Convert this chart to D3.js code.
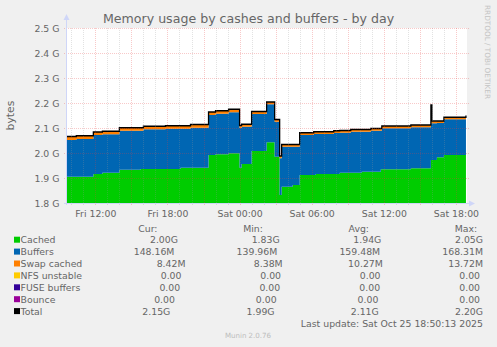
<!DOCTYPE html>
<html><head><meta charset="utf-8">
<script src="https://cdn.jsdelivr.net/npm/d3@7"></script>
<style>
html,body{margin:0;padding:0;background:#F0F0F0;}
svg{display:block;font-family:"DejaVu Sans",sans-serif;}
text{white-space:pre;}
</style></head><body>
<svg id="c" width="497" height="347"></svg>
<script>
// ---------- data ----------
const timeRange = ["2025-10-24 09:38:30", "2025-10-25 18:50:13"];
const times = [
  "2025-10-24 09:38","2025-10-24 10:25","2025-10-24 11:50","2025-10-24 12:35","2025-10-24 14:00",
  "2025-10-24 15:45","2025-10-24 16:00","2025-10-24 17:50","2025-10-24 19:05","2025-10-24 19:55",
  "2025-10-24 21:25","2025-10-24 22:00","2025-10-24 23:05","2025-10-25 00:00","2025-10-25 00:10",
  "2025-10-25 01:00","2025-10-25 02:15","2025-10-25 02:55","2025-10-25 03:20","2025-10-25 03:30",
  "2025-10-25 04:25","2025-10-25 05:00","2025-10-25 06:10","2025-10-25 06:20","2025-10-25 07:50",
  "2025-10-25 08:20","2025-10-25 09:15","2025-10-25 10:10","2025-10-25 10:55","2025-10-25 11:45",
  "2025-10-25 11:50","2025-10-25 14:15","2025-10-25 15:55","2025-10-25 16:00","2025-10-25 16:25",
  "2025-10-25 17:00","2025-10-25 18:50"
];
// Cached, in G
const cached = [1.905,1.905,1.916,1.921,1.933,1.936,1.936,1.936,1.941,1.941,
  1.992,1.995,1.999,1.941,1.956,2.008,2.043,1.985,1.832,1.865,
  1.872,1.912,1.912,1.916,1.916,1.921,1.921,1.925,1.925,1.935,
  1.935,1.939,1.972,1.972,1.983,1.992,1.995];
// Buffers, in M
const buffers = [150.5,154.6,159.7,157.7,159.7,156.7,162.8,164.9,159.7,163.8,
  163.8,165.9,167.9,162.8,152.6,151.6,155.6,143.0,150.5,163.8,
  156.7,163.8,167.9,163.8,167.9,163.8,167.9,163.8,167.9,157.7,
  167.9,167.9,150.5,150.5,140.0,146.4,148.16];
// Swap cached, in M
const swapCached = [13.5,13.0,12.0,12.5,12.0,12.0,12.0,12.0,12.0,13.0,
  12.0,12.0,12.0,10.0,10.0,10.0,9.0,9.0,9.0,9.5,
  9.5,9.0,9.0,9.0,9.0,9.0,9.0,9.0,9.0,9.0,
  9.0,9.0,8.5,8.5,8.5,8.4,8.42];
// Total, in G
const total = [2.066,2.069,2.084,2.087,2.101,2.101,2.107,2.109,2.109,2.114,
  2.164,2.169,2.175,2.110,2.115,2.166,2.204,2.134,1.988,2.034,
  2.034,2.081,2.085,2.085,2.089,2.090,2.094,2.094,2.098,2.098,
  2.108,2.112,2.192,2.128,2.128,2.143,2.150];

const seriesNames = ["Cached","Buffers","Swap cached","NFS unstable","FUSE buffers","Bounce","Total"];
const seriesColors = ["#00CC00","#0066B3","#FF8000","#FFCC00","#330099","#990099","#000000"];
const legendCur = ["  2.00G","148.16M","  8.42M","  0.00 ","  0.00 ","  0.00 ","  2.15G"];
const legendMin = ["  1.83G","139.96M","  8.38M","  0.00 ","  0.00 ","  0.00 ","  1.99G"];
const legendAvg = ["  1.94G","159.48M"," 10.27M","  0.00 ","  0.00 ","  0.00 ","  2.11G"];
const legendMax = ["  2.05G","168.31M"," 13.72M","  0.00 ","  0.00 ","  0.00 ","  2.20G"];
const legendHeader = ["Cur:","Min:","Avg:","Max:  "];
const yTicks = [1.8,1.9,2.0,2.1,2.2,2.3,2.4,2.5];
const xLabelTimes = ["2025-10-24 12:00","2025-10-24 18:00","2025-10-25 00:00","2025-10-25 06:00","2025-10-25 12:00","2025-10-25 18:00"];
const titleText = "Memory usage by cashes and buffers - by day";
const yLabel = "bytes";
const lastUpdate = "Last update: Sat Oct 25 18:50:13 2025";
const credit = "Munin 2.0.76";
const rrdTag = "RRDTOOL / TOBI OETIKER";

// ---------- layout ----------
const W = 497, H = 347;
const PL = 67, PR = 466, PT = 28, PB = 203;
const FONT = "#666666";
const svg = d3.select("#c");
const parseM = d3.timeParse("%Y-%m-%d %H:%M");
const parseS = d3.timeParse("%Y-%m-%d %H:%M:%S");

const x = d3.scaleTime().domain(timeRange.map(parseS)).range([PL, PR]);
const y = d3.scaleLinear().domain([1.8, 2.5]).range([PB, PT]);

svg.append("rect").attr("width", W).attr("height", H).attr("fill", "#F0F0F0");
svg.append("rect").attr("x", PL).attr("y", PT).attr("width", PR - PL + 1).attr("height", PB - PT).attr("fill", "#FFFFFF");

svg.append("defs").append("clipPath").attr("id", "clip")
  .append("rect").attr("x", PL).attr("y", PT - 5).attr("width", PR - PL + 1).attr("height", PB - PT + 5);

const rows = times.map((t, i) => {
  const c = cached[i], b = buffers[i] / 1024, s = swapCached[i] / 1024;
  return {t: parseM(t), c, cb: c + b, cbs: c + b + s, tot: total[i]};
});

const plot = svg.append("g").attr("clip-path", "url(#clip)");
const curve = d3.curveStepAfter;
plot.append("path").datum(rows).attr("fill", seriesColors[0])
  .attr("d", d3.area().curve(curve).x(d => x(d.t)).y0(PB).y1(d => y(d.c)));
plot.append("path").datum(rows).attr("fill", seriesColors[1])
  .attr("d", d3.area().curve(curve).x(d => x(d.t)).y0(d => y(d.c)).y1(d => y(d.cb)));
plot.append("path").datum(rows).attr("fill", seriesColors[2])
  .attr("d", d3.area().curve(curve).x(d => x(d.t)).y0(d => y(d.cb)).y1(d => y(d.cbs)));
plot.append("path").datum(rows).attr("fill", "none").attr("stroke", seriesColors[6]).attr("stroke-width", 1.3)
  .attr("d", d3.line().curve(curve).x(d => x(d.t)).y(d => y(d.tot)));

// ---------- grid (drawn on top, like rrdtool) ----------
const grid = svg.append("g").attr("shape-rendering", "crispEdges");
const hours = d3.timeHour.every(1).range(x.domain()[0], x.domain()[1]);
hours.forEach(h => {
  const major = h.getHours() % 3 === 0;
  const xp = Math.round(x(h)) + 0.5;
  grid.append("line").attr("x1", xp).attr("x2", xp).attr("y1", PT).attr("y2", major ? PB + 3 : PB + 2)
    .attr("stroke", major ? "rgba(230,60,60,0.28)" : "rgba(150,150,150,0.28)")
    .attr("stroke-dasharray", "1,1");
});
yTicks.forEach(v => {
  const yp = Math.round(y(v)) + 0.5;
  grid.append("line").attr("x1", PL - 3).attr("x2", PR + 3).attr("y1", yp).attr("y2", yp)
    .attr("stroke", "rgba(230,60,60,0.28)").attr("stroke-dasharray", "1,1");
});

// ---------- axes ----------
const AX = "#CFD6F8";
svg.append("line").attr("x1", PL - 0.5).attr("x2", PL - 0.5).attr("y1", PB + 2).attr("y2", PT - 8).attr("stroke", AX);
svg.append("path").attr("d", `M${PL - 3.5},${PT - 8} L${PL + 2.5},${PT - 8} L${PL - 0.5},${PT - 14} Z`).attr("fill", AX);
svg.append("line").attr("x1", PL - 3).attr("x2", PR + 3).attr("y1", PB + 0.5).attr("y2", PB + 0.5).attr("stroke", AX);
svg.append("path").attr("d", `M${PR + 3},${PB - 2.5} L${PR + 3},${PB + 3.5} L${PR + 9},${PB + 0.5} Z`).attr("fill", AX);

const yAxis = svg.append("g").attr("transform", `translate(${PL},0)`)
  .call(d3.axisLeft(y).tickValues(yTicks).tickFormat(d => d3.format(".1f")(d) + " G").tickSize(0).tickPadding(7.5));
yAxis.select(".domain").remove();
yAxis.selectAll("text").attr("font-family", "DejaVu Sans").attr("font-size", 9.33).attr("fill", FONT);

const xAxis = svg.append("g").attr("transform", `translate(0,${PB})`)
  .call(d3.axisBottom(x).tickValues(xLabelTimes.map(parseM)).tickFormat(d3.timeFormat("%a %H:%M")).tickSize(0).tickPadding(7));
xAxis.select(".domain").remove();
xAxis.selectAll("text").attr("font-family", "DejaVu Sans").attr("font-size", 9.33).attr("fill", FONT);

// ---------- texts ----------
svg.append("text").attr("x", 248.5).attr("y", 23.3).attr("text-anchor", "middle")
  .attr("font-size", 12.6).attr("fill", FONT).text(titleText);
svg.append("text").attr("transform", "translate(13.8,115.5) rotate(-90)").attr("text-anchor", "middle")
  .attr("font-size", 10.8).attr("fill", FONT).text(yLabel);
svg.append("text").attr("transform", "translate(484.6,5) rotate(90)").attr("text-anchor", "start")
  .attr("font-size", 7.3).attr("fill", "#C4C4C4").text(rrdTag);

// ---------- legend (rrdtool justified rows) ----------
const LL = 14, LR = 483, LFS = 9.33;
const legend = svg.append("g").attr("font-size", LFS).attr("fill", FONT);
function justifyRow(items, baseline) {
  const nodes = items.map(it => {
    const g = legend.append("g");
    let w = 0;
    if (it.color) {
      g.append("rect").attr("x", 0).attr("y", baseline - 6.6).attr("width", 6).attr("height", 6).attr("fill", it.color);
      w = 6.6;
    }
    const t = g.append("text").attr("x", w).attr("y", baseline).text(it.text);
    w += t.node().getComputedTextLength();
    return {g, w};
  });
  const gap = (LR - LL - d3.sum(nodes, n => n.w)) / (nodes.length - 1);
  let xp = LL;
  nodes.forEach(n => { n.g.attr("transform", `translate(${xp},0)`); xp += n.w + gap; });
}
const labelPad = 13;
justifyRow([{text: " ".repeat(labelPad)}].concat(legendHeader.map(h => ({text: h}))), 231.5);
seriesNames.forEach((name, i) => {
  justifyRow([
    {text: name.padEnd(labelPad), color: seriesColors[i]},
    {text: legendCur[i]}, {text: legendMin[i]}, {text: legendAvg[i]}, {text: legendMax[i]}
  ], 243.3 + i * 11.9);
});
svg.append("text").attr("x", LR).attr("y", 327.4).attr("text-anchor", "end")
  .attr("font-size", LFS).attr("fill", FONT).text(lastUpdate);
svg.append("text").attr("x", 248).attr("y", 338.3).attr("text-anchor", "middle")
  .attr("font-size", 7.07).attr("fill", "#BDBDBD").text(credit);
</script>
</body></html>
